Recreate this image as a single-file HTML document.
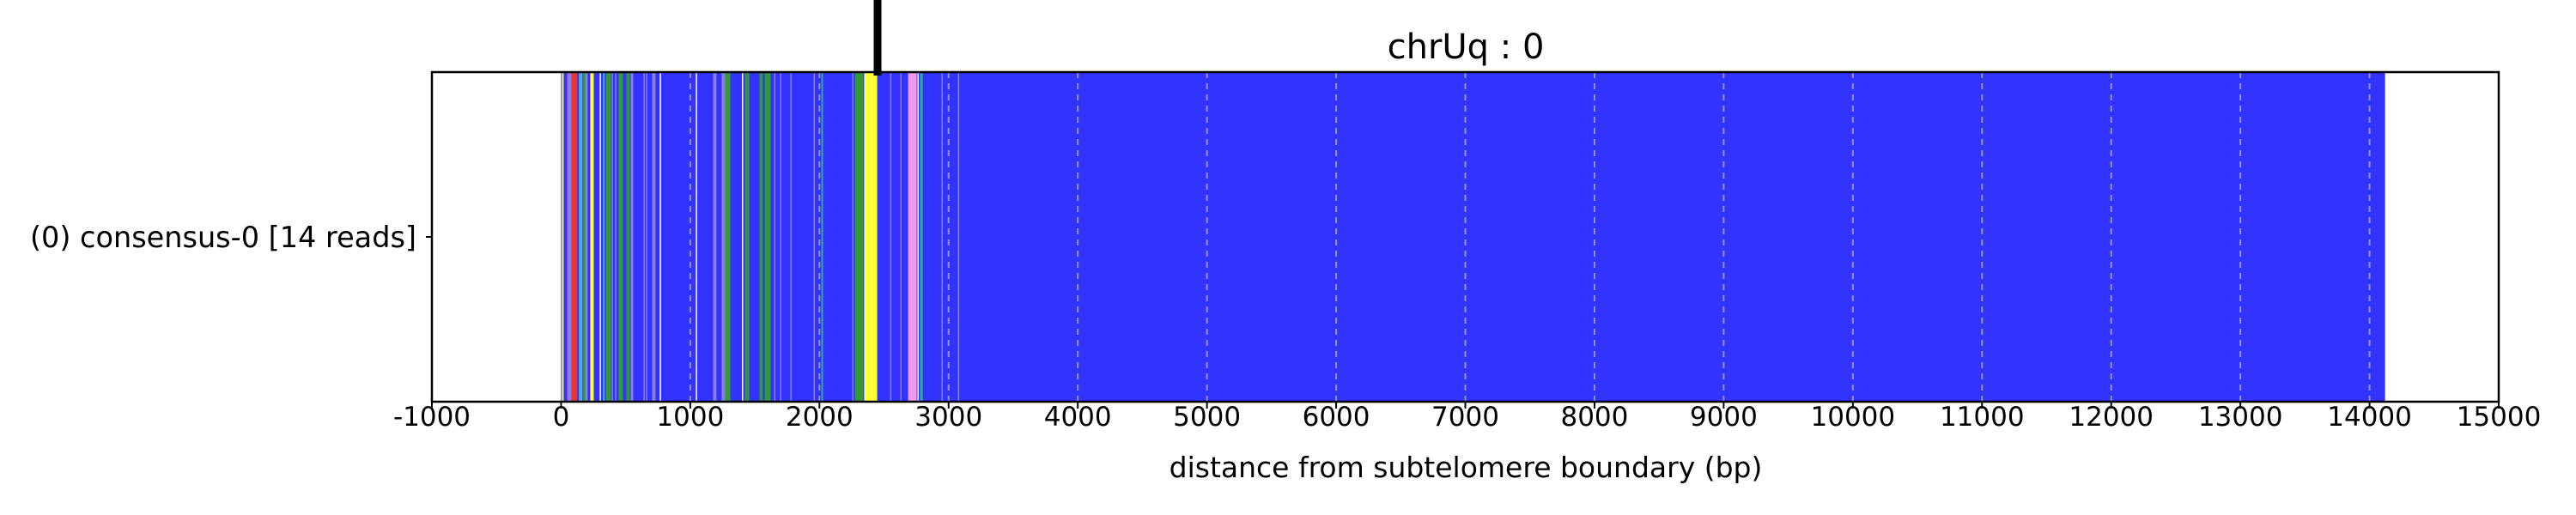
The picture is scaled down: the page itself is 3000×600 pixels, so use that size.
<!DOCTYPE html>
<html><head><meta charset="utf-8">
<style>
html,body{margin:0;padding:0;background:#fff;}
svg{display:block;font-family:"DejaVu Sans","Liberation Sans",sans-serif;}
</style></head>
<body>
<svg id="chart" width="3000" height="600" viewBox="0 0 3000 600">
  <text x="1707" y="68" font-size="40" text-anchor="middle">chrUq : 0</text>
  <g id="bands"></g>
  <g id="grid"></g>
  <rect x="503" y="84" width="2407" height="384" fill="none" stroke="#000" stroke-width="2.5"/>
  <g id="xticks"></g>
  <line x1="496" y1="276" x2="503" y2="276" stroke="#000" stroke-width="2"/>
  <text x="485" y="288" font-size="33.5" text-anchor="end">(0) consensus-0 [14 reads]</text>
  <text x="1707" y="556" font-size="33" text-anchor="middle">distance from subtelomere boundary (bp)</text>
  <g id="marker"></g>
</svg>
<script>
const xTicks = [-1000,0,1000,2000,3000,4000,5000,6000,7000,8000,9000,10000,11000,12000,13000,14000,15000];
const gridValues = [1000,2000,3000,4000,5000,6000,7000,8000,9000,10000,11000,12000,13000,14000];
const readStart = [0];
const readEnd = [14120];
const bandStart = [7,47,53,80,140,153,166,186,226,299,326,346,392,418,445,505,539,638,658,705,764,1043,1177,1243,1270,1400,1423,1536,1576,1649,1695,1775,1955,2015,2254,2274,2347,2354,2547,2626,2686,2759,2779,2945,3072];
const bandEnd   = [20,53,80,126,150,160,186,206,253,305,332,386,398,424,479,532,558,644,664,731,770,1049,1203,1270,1310,1406,1456,1562,1622,1655,1701,1781,1961,2028,2260,2340,2353,2447,2553,2632,2753,2765,2800,2951,3078];
const bandType  = ["Y","M","L","R","C","C","G","L","Y","W","C","G","L","L","G","G","L","L","L","L","W","W","L","L","G","W","G","G","G","L","L","L","L","T","L","G","W","Y","L","L","P","W","T","L","L"];
const markerPos = [2450];

const colors = {Y:"#ffff33",M:"#cc55cc",L:"#8a80e0",R:"#ee3333",C:"#33ddff",G:"#339933",W:"#ffffff",T:"#33aa99",P:"#ee99ee"};
const X0 = 503, X1 = 2910, xMin = -1000, xMax = 15000, Y0 = 84, Y1 = 468;
const xs = v => X0 + (v - xMin) / (xMax - xMin) * (X1 - X0);
const NS = "http://www.w3.org/2000/svg";
const bands = document.getElementById('bands');
const grid = document.getElementById('grid');
const xt = document.getElementById('xticks');
const marker = document.getElementById('marker');

for (let i = 0; i < readStart.length; i++) {
  const r = document.createElementNS(NS, 'rect');
  r.setAttribute('x', xs(readStart[i]));
  r.setAttribute('y', Y0);
  r.setAttribute('width', xs(readEnd[i]) - xs(readStart[i]));
  r.setAttribute('height', Y1 - Y0);
  r.setAttribute('fill', '#3333ff');
  
  
  bands.appendChild(r);
}
for (let i = 0; i < bandStart.length; i++) {
  const r = document.createElementNS(NS, 'rect');
  const x = xs(bandStart[i]);
  r.setAttribute('x', x);
  r.setAttribute('y', Y0);
  r.setAttribute('width', Math.max(1.5, xs(bandEnd[i]) - x));
  r.setAttribute('height', Y1 - Y0);
  r.setAttribute('fill', colors[bandType[i]]);
  
  
  bands.appendChild(r);
}
for (const g of gridValues) {
  const l = document.createElementNS(NS, 'line');
  l.setAttribute('x1', xs(g)); l.setAttribute('x2', xs(g));
  l.setAttribute('y1', Y0); l.setAttribute('y2', Y1);
  l.setAttribute('stroke', 'rgba(170,170,170,0.8)');
  l.setAttribute('stroke-width', '2');
  l.setAttribute('stroke-dasharray', '7,6');
  
  
  grid.appendChild(l);
}
for (const t of xTicks) {
  const l = document.createElementNS(NS, 'line');
  l.setAttribute('x1', xs(t)); l.setAttribute('x2', xs(t));
  l.setAttribute('y1', Y1); l.setAttribute('y2', Y1 + 8);
  l.setAttribute('stroke', '#000');
  l.setAttribute('stroke-width', '2');
  
  
  xt.appendChild(l);
  const tx = document.createElementNS(NS, 'text');
  tx.setAttribute('x', xs(t));
  tx.setAttribute('y', 496);
  tx.setAttribute('font-size', '31');
  tx.setAttribute('text-anchor', 'middle');
  
  
  tx.textContent = String(t);
  xt.appendChild(tx);
}
for (const m of markerPos) {
  const l = document.createElementNS(NS, 'line');
  l.setAttribute('x1', xs(m)); l.setAttribute('x2', xs(m));
  l.setAttribute('y1', 0); l.setAttribute('y2', 88);
  l.setAttribute('stroke', '#000');
  l.setAttribute('stroke-width', '9');
  
  
  marker.appendChild(l);
}
</script>
</body></html>
